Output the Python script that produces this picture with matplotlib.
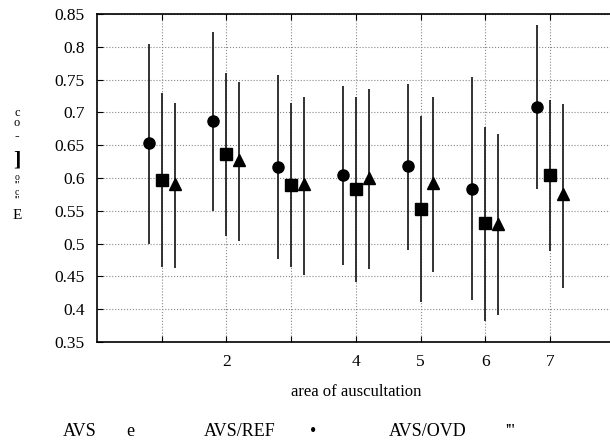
import matplotlib
matplotlib.use('Agg')
import matplotlib.pyplot as plt

plt.rcParams['font.family'] = ['Liberation Serif', 'DejaVu Serif']

areas = [1, 2, 3, 4, 5, 6, 7]
xtick_labels = ['', '2', '', '4', '5', '6', '7']
ytick_vals = [0.35, 0.4, 0.45, 0.5, 0.55, 0.6, 0.65, 0.7, 0.75, 0.8, 0.85]
ytick_labels = ['0.35', '0.4', '0.45', '0.5', '0.55', '0.6', '0.65', '0.7', '0.75', '0.8', '0.85']

# AVS (circles)
avs_mid = [0.653, 0.687, 0.617, 0.604, 0.619, 0.583, 0.708]
avs_low = [0.500, 0.550, 0.476, 0.467, 0.491, 0.414, 0.583]
avs_high = [0.805, 0.823, 0.757, 0.740, 0.744, 0.754, 0.833]

# AVS/REF (squares)
ref_mid = [0.597, 0.636, 0.590, 0.583, 0.553, 0.531, 0.605]
ref_low = [0.465, 0.511, 0.465, 0.442, 0.411, 0.382, 0.488]
ref_high = [0.729, 0.760, 0.714, 0.723, 0.695, 0.678, 0.719]

# AVS/OVD (triangles)
ovd_mid = [0.591, 0.627, 0.591, 0.600, 0.593, 0.530, 0.575]
ovd_low = [0.463, 0.504, 0.452, 0.462, 0.456, 0.391, 0.433]
ovd_high = [0.714, 0.747, 0.724, 0.735, 0.724, 0.667, 0.713]

fig = plt.figure(figsize=(6.1, 4.45), dpi=100)
ax = fig.add_axes([97 / 610, 103 / 445, 517.6 / 610, 328 / 445])

series = [
    (avs_mid, avs_low, avs_high, -0.2, 'o', 8),
    (ref_mid, ref_low, ref_high, 0.0, 's', 8.5),
    (ovd_mid, ovd_low, ovd_high, 0.2, '^', 8),
]
for mid, low, high, off, mk, ms in series:
    xs = [a + off for a in areas]
    err = [[m - l for m, l in zip(mid, low)], [h - m for m, h in zip(mid, high)]]
    ax.errorbar(xs, mid, yerr=err, fmt=mk, color='black', ms=ms,
                ecolor='#222222', elinewidth=1.3, capsize=0)

ax.set_xlim(0, 8)
ax.set_ylim(0.35, 0.85)
ax.set_xticks(areas)
ax.set_xticklabels(xtick_labels)
ax.set_yticks(ytick_vals)
ax.set_yticklabels(ytick_labels)
ax.tick_params(direction='in', length=4, labelsize=12.5, top=True, pad=9)
ax.grid(True, linestyle=':', color='#888888', linewidth=0.8)
for s in ax.spines.values():
    s.set_linewidth(1.2)
ax.set_xlabel('area of auscultation', fontsize=12, labelpad=10)

# scanned y-axis label fragments
def ytxt(s, y, size, **kw):
    fig.text(17 / 610, 1 - y / 445, s, fontsize=size, ha='center', va='center', **kw)

ytxt('c\no', 118, 9, linespacing=0.75)
ytxt('-', 137, 10, weight='bold')
ytxt(']', 160, 16, weight='bold')
ytxt("o\n'''\nc\n'''", 189, 7, linespacing=0.8)
ytxt('E', 216, 11)

# legend row as in the scan
for txt, x in [('AVS', 80), ('e', 130), ('AVS/REF', 240), ('\u2022', 313), ('AVS/OVD', 428), ("'''", 510)]:
    fig.text(x / 610, 1 - 432 / 445, txt, fontsize=13, ha='center', va='center')

fig.savefig('out.png', dpi=100)
